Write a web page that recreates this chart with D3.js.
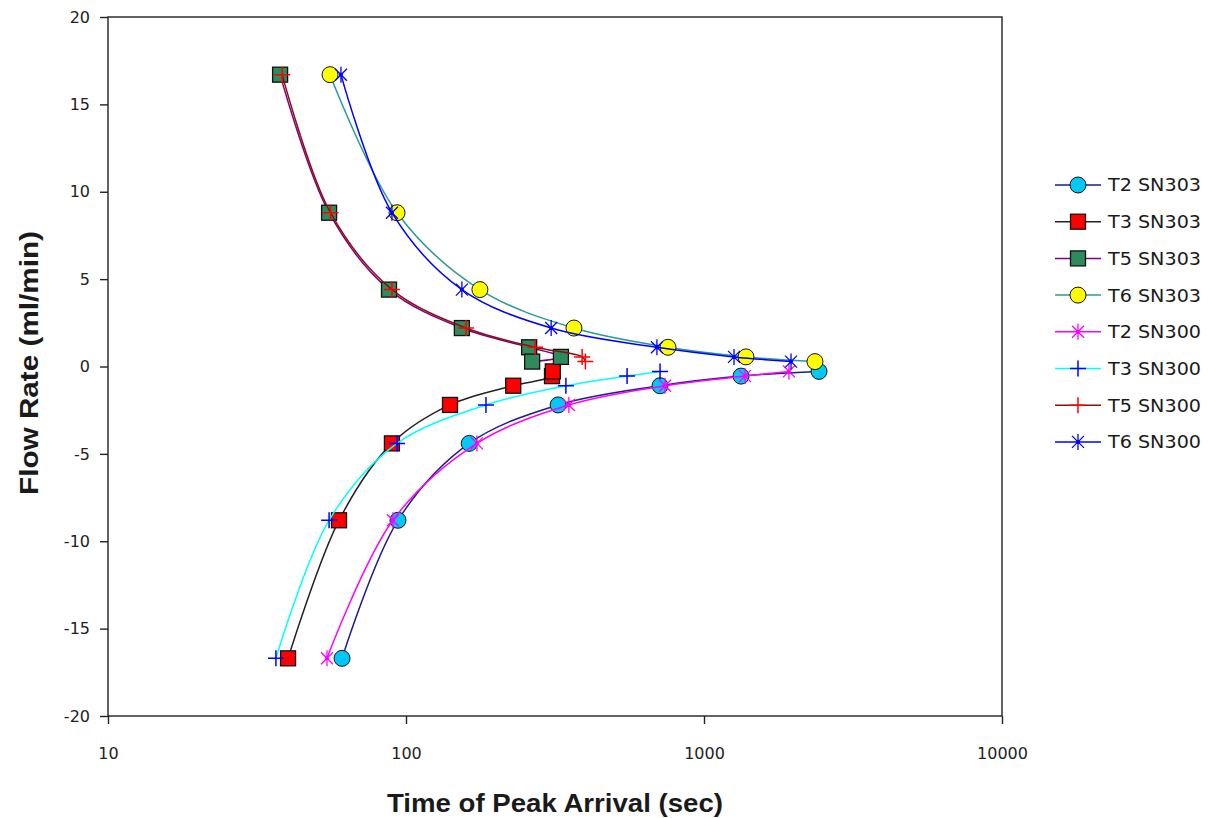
<!DOCTYPE html>
<html>
<head>
<meta charset="utf-8">
<script src="https://cdn.jsdelivr.net/npm/d3@7"></script>
<style>
  body { margin: 0; background: #fff; }
</style>
</head>
<body>
<div id="chart"></div>
<script>
// flow rate levels (ml/min), largest first
const flowPos = [16.7, 8.8, 4.4, 2.2, 1.1, 0.55, 0.28]
const flowNeg = [-16.7, -8.8, -4.4, -2.2, -1.1, -0.55, -0.28]

// time of peak arrival (sec) for each flow level
const t2SN303 = [61, 94, 163, 324, 712, 1331, 2432]
const t3SN303 = [40.2, 59.6, 89.7, 140.5, 229, 309, 311]
const t5SN303 = [37.8, 55.2, 87.7, 154, 259, 331, 265]
const t6SN303 = [55.6, 93.3, 177, 366, 757, 1383, 2357]
const t2SN300 = [54.3, 90.4, 173, 352, 740, 1373, 1928]
const t3SN300 = [36.6, 55.2, 93.3, 185.5, 344, 552, 712]
const t5SN300 = [38.4, 55.8, 89.7, 159, 271, 390, 400]
const t6SN300 = [60.5, 89.7, 154, 307, 695, 1261, 1959]

const xTicks = [10, 100, 1000, 10000]
const yTicks = [-20, -15, -10, -5, 0, 5, 10, 15, 20]

const series = [
    {name: "T2 SN303", x: t2SN303, y: flowNeg, line: "#1c1c8c", marker: "circle", fill: "#00c8f8"},
    {name: "T3 SN303", x: t3SN303, y: flowNeg, line: "#222", marker: "square", fill: "#ff0000"},
    {name: "T5 SN303", x: t5SN303, y: flowPos, line: "#800080", marker: "square", fill: "#2e8b5c"},
    {name: "T6 SN303", x: t6SN303, y: flowPos, line: "#2a9a9a", marker: "circle", fill: "#ffff00"},
    {name: "T2 SN300", x: t2SN300, y: flowNeg, line: "#ff00ff", marker: "star", fill: "#ff00ff"},
    {name: "T3 SN300", x: t3SN300, y: flowNeg, line: "#00ffff", marker: "plus", fill: "#0000ff"},
    {name: "T5 SN300", x: t5SN300, y: flowPos, line: "#8b1010", marker: "plus", fill: "#ff0000"},
    {name: "T6 SN300", x: t6SN300, y: flowPos, line: "#0000ff", marker: "star", fill: "#0000ff"}
]

const width = 1208, height = 818
const plot = {left: 108, right: 1002, top: 17, bottom: 716}

const svg = d3.select("#chart").append("svg")
    .attr("width", width)
    .attr("height", height)
    .attr("font-family", "'DejaVu Sans', Verdana, sans-serif")

const x = d3.scaleLog().domain([10, 10000]).range([plot.left, plot.right])
const y = d3.scaleLinear().domain([-20, 20]).range([plot.bottom, plot.top])

// plot frame
svg.append("rect")
    .attr("x", plot.left)
    .attr("y", plot.top)
    .attr("width", plot.right - plot.left)
    .attr("height", plot.bottom - plot.top)
    .attr("fill", "none")
    .attr("stroke", "#222")
    .attr("stroke-width", 1.4)

// plain hyphen for negatives, like the original
const plain = d => String(d)

const yAxis = svg.append("g")
    .attr("transform", `translate(${plot.left},0)`)
    .call(d3.axisLeft(y).tickValues(yTicks).tickSize(8).tickPadding(10).tickFormat(plain))
yAxis.select(".domain").remove()

const xAxis = svg.append("g")
    .attr("transform", `translate(0,${plot.bottom})`)
    .call(d3.axisBottom(x).tickValues(xTicks).tickSize(8).tickPadding(24).tickFormat(plain))
xAxis.select(".domain").remove()

svg.selectAll(".tick line").attr("stroke", "#222").attr("stroke-width", 1.4)
svg.selectAll(".tick text")
    .attr("fill", "#222")
    .attr("font-size", "16px")
    .attr("font-family", "'DejaVu Sans', Verdana, sans-serif")

// axis titles
svg.append("text")
    .attr("x", (plot.left + plot.right) / 2)
    .attr("y", 812)
    .attr("text-anchor", "middle")
    .attr("font-family", "'Liberation Sans Narrow', 'Liberation Sans', sans-serif")
    .attr("font-weight", "bold")
    .attr("font-size", "25px")
    .attr("fill", "#1a1a1a")
    .attr("textLength", 336)
    .attr("lengthAdjust", "spacingAndGlyphs")
    .text("Time of Peak Arrival (sec)")

svg.append("text")
    .attr("transform", "translate(38,363) rotate(-90)")
    .attr("text-anchor", "middle")
    .attr("font-family", "'Liberation Sans Narrow', 'Liberation Sans', sans-serif")
    .attr("font-weight", "bold")
    .attr("font-size", "25px")
    .attr("fill", "#1a1a1a")
    .attr("textLength", 264)
    .attr("lengthAdjust", "spacingAndGlyphs")
    .text("Flow Rate (ml/min)")

function drawMarker(g, s) {
    if (s.marker === "circle") {
        g.append("circle").attr("r", 8)
            .attr("fill", s.fill).attr("stroke", "#111").attr("stroke-width", 1)
    } else if (s.marker === "square") {
        g.append("rect").attr("x", -7.5).attr("y", -7.5)
            .attr("width", 15).attr("height", 15)
            .attr("fill", s.fill).attr("stroke", "#111").attr("stroke-width", 1.3)
    } else if (s.marker === "plus") {
        g.append("path").attr("d", "M-8,0H8M0,-8V8")
            .attr("stroke", s.fill).attr("stroke-width", 1.5).attr("fill", "none")
    } else {
        // asterisk: vertical stroke plus an X
        g.append("path").attr("d", "M0,-8V8M-6,-6L6,6M-6,6L6,-6")
            .attr("stroke", s.fill).attr("stroke-width", 1.3).attr("fill", "none")
        g.append("circle").attr("r", 2).attr("fill", s.fill)
    }
}

const line = d3.line()
    .x(d => x(d[0]))
    .y(d => y(d[1]))
    .curve(d3.curveCatmullRom.alpha(0.5))

const plotArea = svg.append("g")

series.forEach(s => {
    const pts = s.x.map((v, i) => [v, s.y[i]])
    const g = plotArea.append("g").attr("class", "series")
    g.append("path")
        .attr("d", line(pts))
        .attr("fill", "none")
        .attr("stroke", s.line)
        .attr("stroke-width", 1.5)
    g.selectAll("g.pt")
        .data(pts)
        .join("g")
        .attr("class", "pt")
        .attr("transform", d => `translate(${x(d[0])},${y(d[1])})`)
        .each(function () { drawMarker(d3.select(this), s) })
})

// legend
const legend = svg.append("g").attr("transform", "translate(1055,185)")
const rows = legend.selectAll("g")
    .data(series)
    .join("g")
    .attr("transform", (d, i) => `translate(0,${i * 36.7})`)

rows.append("line")
    .attr("x1", 0).attr("x2", 46)
    .attr("stroke", d => d.line)
    .attr("stroke-width", 1.5)
rows.append("g")
    .attr("transform", "translate(23,0)")
    .each(function (d) { drawMarker(d3.select(this), d) })
rows.append("text")
    .attr("x", 53)
    .attr("dy", "0.36em")
    .attr("font-size", "18px")
    .attr("fill", "#1a1a1a")
    .attr("textLength", 93)
    .attr("lengthAdjust", "spacingAndGlyphs")
    .text(d => d.name)
</script>
</body>
</html>
